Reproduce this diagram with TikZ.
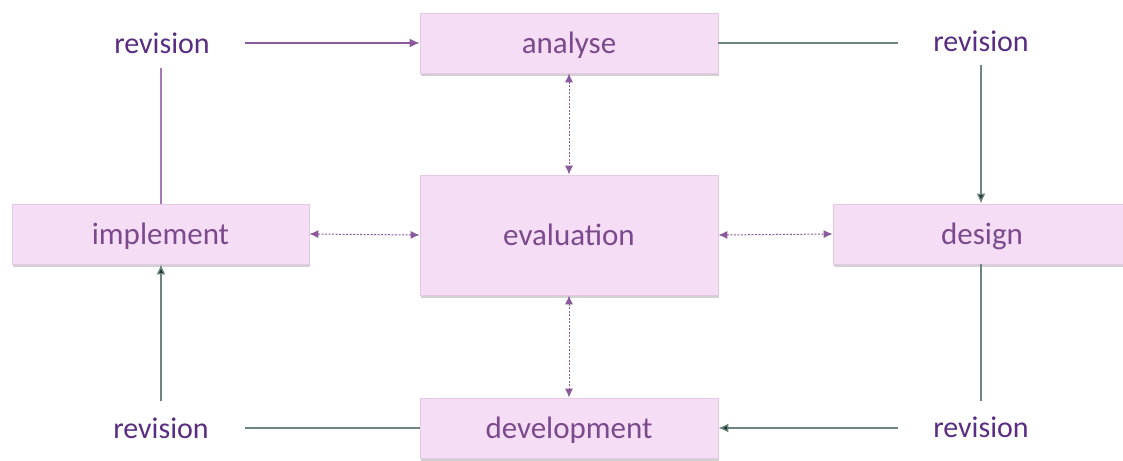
\documentclass[tikz,border=0pt]{standalone}
\usepackage{fontspec}
\setmainfont{Carlito}
\usetikzlibrary{shadows,arrows.meta}
\definecolor{boxfill}{HTML}{F6DDF6}
\definecolor{boxline}{HTML}{E6C8E6}
\definecolor{boxtext}{HTML}{7B4A8C}
\definecolor{revtext}{HTML}{5A2D82}
\definecolor{purpline}{HTML}{8C5A9C}
\definecolor{greyline}{HTML}{6F8480}
\definecolor{darktip}{HTML}{1E3836}
\tikzset{
  box/.style={draw=boxline, line width=0.8pt, fill=boxfill, minimum height=60pt,
    text=boxtext, font=\fontsize{31}{34}\selectfont, text depth=0pt,
    drop shadow={shadow xshift=1pt, shadow yshift=-2.5pt, opacity=0.3, fill=black!60}},
  rev/.style={text=revtext, font=\fontsize{30}{34}\selectfont},
  dotarrow/.style={draw=purpline, line width=1pt, dash pattern=on 2pt off 1.5pt,
    {Latex[length=9pt,width=8pt]}-{Latex[length=9pt,width=8pt]}},
  purparrow/.style={draw=purpline, line width=1.3pt, -{Latex[length=10pt,width=9pt]}},
  greyarrow/.style={draw=greyline, line width=1.3pt, -{Latex[length=10pt,width=9pt,fill=darktip]}},
  greyplain/.style={draw=greyline, line width=1.3pt},
  purpplain/.style={draw=purpline!80, line width=1.3pt}
}
\begin{document}
\begin{tikzpicture}[x=1pt,y=-1pt]
\useasboundingbox (0,0) rectangle (1123,460);
\node[box, minimum width=298pt] (analyse) at (569,43) {analyse};
\node[box, minimum width=298pt, minimum height=120pt] (eval) at (569,235) {evaluation};
\node[box, minimum width=298pt] (dev) at (569,428) {development};
\node[box, minimum width=297pt] (impl) at (160.5,234) {implement};
\node[box, minimum width=298pt] (design) at (982,234) {design};

\node[rev] (rtl) at (162,43) {revision};
\node[rev] (rtr) at (981,41) {revision};
\node[rev] (rbl) at (161,428) {revision};
\node[rev] (rbr) at (981,427) {revision};

\coordinate (tlE) at (245,43);
\coordinate (tlS) at (161,68);
\coordinate (trW) at (898,43);
\coordinate (trS) at (981,65);
\coordinate (brN) at (981,401);
\coordinate (brW) at (898,428);
\coordinate (blE) at (245,428);
\coordinate (blN) at (161,401);

\draw[purparrow] (tlE) -- (analyse.west);
\draw[greyplain] (analyse.east) -- (trW);
\draw[greyarrow] (trS) -- (design.north -| trS);
\draw[greyplain] (design.south -| brN) -- (brN);
\draw[greyarrow] (brW) -- (dev.east);
\draw[greyplain] (dev.west) -- (blE);
\draw[greyarrow] (blN) -- (impl.south -| blN);
\draw[purpplain] (impl.north -| tlS) -- (tlS);

\draw[dotarrow] (analyse.south) -- (eval.north);
\draw[dotarrow] (eval.south) -- (dev.north);
\draw[dotarrow] (eval.west) -- (impl.east);
\draw[dotarrow] (eval.east) -- (design.west);
\end{tikzpicture}
\end{document}
